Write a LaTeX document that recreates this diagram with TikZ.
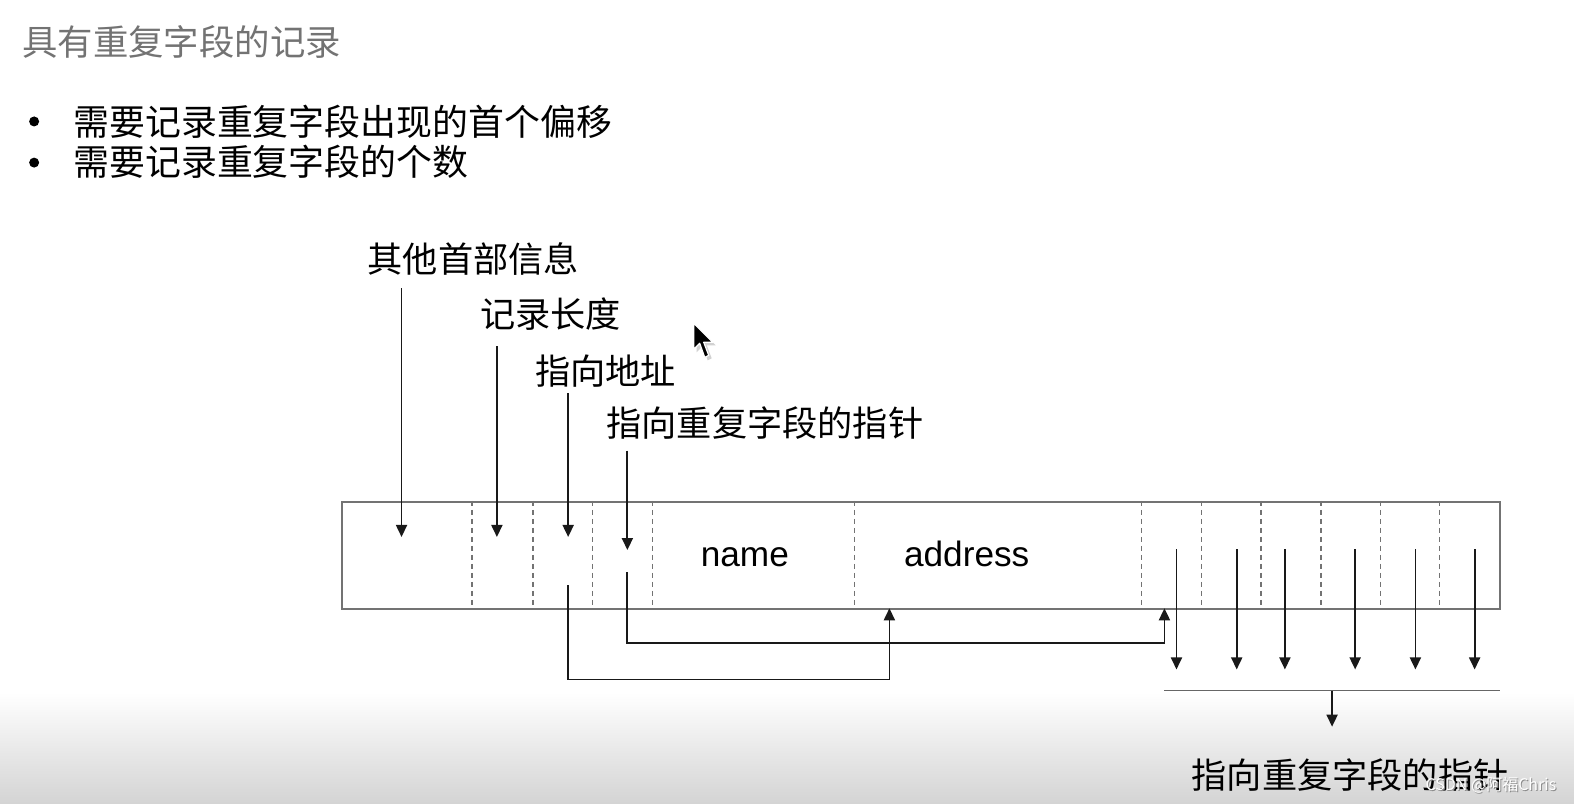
\documentclass[tikz,border=0pt]{standalone}
\usepackage{fontspec}
\newfontfamily\cjk{Noto Sans CJK SC}
\newfontfamily\lat{Liberation Sans}
\usetikzlibrary{arrows.meta}
\begin{document}
\begin{tikzpicture}[x=1.0038pt,y=-1.0037pt,
  lbl/.style={font=\cjk\fontsize{35.2}{42}\selectfont, anchor=base west, inner sep=0pt},
  ttl/.style={font=\cjk\fontsize{35.4}{42}\selectfont, anchor=base west, inner sep=0pt, text=black!55},
  bul/.style={font=\cjk\fontsize{35.9}{43}\selectfont, anchor=base west, inner sep=0pt},
  dot/.style={circle, fill=black, inner sep=0pt, minimum size=10pt},
  fld/.style={font=\lat\fontsize{35.2}{42}\selectfont, anchor=base, inner sep=0pt},
  arr/.style={-{Triangle[length=12pt,width=11pt]}, line width=1.8pt, black!90},
  divl/.style={dash pattern=on 5pt off 4pt, line width=1.4pt, black!55},
  plain/.style={line width=1.8pt, black!60}
]
\useasboundingbox (0,0) rectangle (1568,801);
\fill[white] (0,0) rectangle (1568,801);
\shade[top color=white, bottom color=black!17] (0,690) rectangle (1568,801);

% title and bullets
\node[ttl] (title) at (22,55) {具有重复字段的记录};
\node[dot] (d1) at (34,121) {};
\node[bul] (b1) at (73,135) {需要记录重复字段出现的首个偏移};
\node[dot] (d2) at (34,162) {};
\node[bul] (b2) at (73,175) {需要记录重复字段的个数};

% labels
\node[lbl] (l1) at (366,271) {其他首部信息};
\node[lbl] (l2) at (478,326) {记录长度};
\node[lbl] (l3) at (533,383) {指向地址};
\node[lbl] (l4) at (604,435) {指向重复字段的指针};
\node[lbl] (l5) at (1187,786) {指向重复字段的指针};

% record box
\node[draw=black!55, line width=1.8pt, minimum width=1158pt, minimum height=107pt,
      anchor=north west, inner sep=0pt] (rec) at (340,499) {};
\foreach \x in {470,531,590,650,851,1137,1197,1256,1316,1375,1434}
  \draw[divl] (\x,499) -- (\x,606);
\node[fld] (name) at (742,564) {name};
\node[fld] (addr) at (963,564) {address};

% label arrows
\coordinate (s1) at (400,287); \coordinate (e1) at (400,535);
\coordinate (s2) at (495,345); \coordinate (e2) at (495,535);
\coordinate (s3) at (566,392); \coordinate (e3) at (566,535);
\coordinate (s4) at (625,449); \coordinate (e4) at (625,548);
\draw[arr] (s1) -- (e1);
\draw[arr] (s2) -- (e2);
\draw[arr] (s3) -- (e3);
\draw[arr] (s4) -- (e4);

% connectors to address and repeating pointers
\coordinate (c1) at (566,583); \coordinate (t1) at (886,606);
\coordinate (c2) at (625,570); \coordinate (t2) at (1160,606);
\draw[arr] (c1) -- (566,677) -| (t1);
\draw[arr] (c2) -- (625,641) -| (t2);

% repeating field arrows
\foreach \x [count=\i] in {1172,1232,1280,1350,1410,1469} {
  \coordinate (r\i s) at (\x,547);
  \coordinate (r\i e) at (\x,667);
  \draw[arr] (r\i s) -- (r\i e);
}
\coordinate (hl) at (1160,688); \coordinate (hr) at (1494,688);
\draw[plain] (hl) -- (hr);
\coordinate (hm) at (1327,688); \coordinate (hb) at (1327,724);
\draw[arr] (hm) -- (hb);

% mouse cursor
\begin{scope}[shift={(691,322)}]
\fill[black!18] (3,3) -- (3,29) -- (9,23) -- (14,37) -- (18,35) -- (13,22) -- (22,22) -- cycle;
\draw[white, line width=1.2pt, fill=black, line join=round] (0,0) -- (0,26) -- (6,20) -- (11,34) -- (15,32) -- (10,19) -- (19,19) -- cycle;
\end{scope}

% watermark
\node[font=\cjk\fontsize{16}{18}\selectfont, text=black!45, anchor=base west, inner sep=0pt] (wms) at (1421,789) {CSDN @阿福Chris};
\node[font=\cjk\fontsize{16}{18}\selectfont, text=white, anchor=base west, inner sep=0pt] (wm) at (1420,788) {CSDN @阿福Chris};
\end{tikzpicture}
\end{document}
